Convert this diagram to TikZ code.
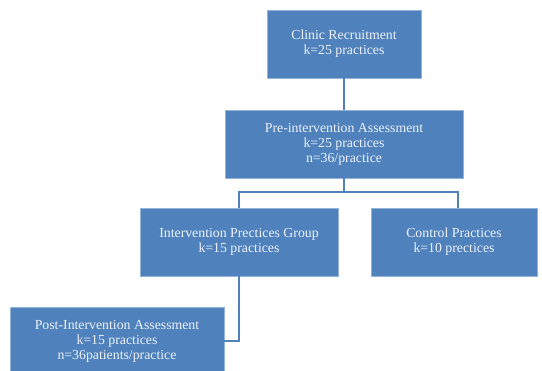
\documentclass[tikz,border=0pt]{standalone}
\usepackage{fontspec}
\setmainfont{Liberation Serif}
\usepackage{tikz}
\definecolor{boxblue}{RGB}{79,129,189}
\definecolor{txtwhite}{RGB}{238,242,248}

\begin{document}
\begin{tikzpicture}[x=1pt, y=-1pt,
  stage/.style={rectangle, fill=boxblue, draw=boxblue!60!white, line width=.6pt,
    text=txtwhite, align=center, minimum height=68pt, inner sep=2pt,
    font=\fontsize{13.8}{15}\selectfont},
  link/.style={draw=boxblue, line width=1.6pt}]
\useasboundingbox (0,0) rectangle (542,371);
% boxes, top to bottom
\node[stage, minimum width=154pt] (clinic) at (344,44) {Clinic Recruitment\\k=25 practices};
\node[stage, minimum width=238pt] (pre) at (344,144) {Pre-intervention Assessment\\k=25 practices\\n=36/practice};
\node[stage, minimum width=198pt] (inter) at (239,242) {Intervention Prectices Group\\k=15 practices};
\node[stage, minimum width=166pt] (ctrl) at (454,242) {Control Practices\\k=10 prectices};
\node[stage, minimum width=214pt] (post) at (117,341) {Post-Intervention Assessment\\k=15 practices\\n=36patients/practice};
\coordinate (split) at (344,192);
% connectors
\draw[link] (clinic) -- (pre);
\draw[link] (pre) -- (split) -| (inter.north);
\draw[link] (split) -| ([xshift=4pt]ctrl.north);
\draw[link] (inter.south) |- (post.east);
\end{tikzpicture}
\end{document}
